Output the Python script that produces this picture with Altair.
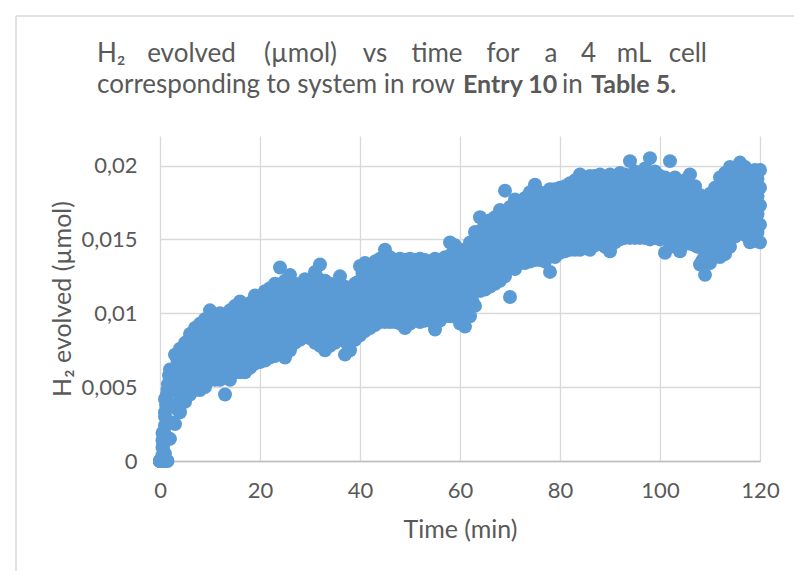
import altair as alt
import pandas as pd

# ---- data (time in min, H2 evolved in µmol) ----
# whole-minute readings: lower edge, three inner levels, upper edge of the scatter
T = list(range(121))

Y_LOW = [
    0, .0005, .0015, .0025, .0033, .004, .0045, .0048, .0048, .005,
    .0055, .0055, .0055, .0045, .0055, .006, .006, .006, .0063, .0066,
    .0067, .0068, .007, .0071, .0073, .007, .0075, .008, .0082, .0085,
    .0083, .008, .0078, .0075, .0078, .008, .0082, .0072, .0075, .0082,
    .0085, .0088, .009, .0092, .0094, .0094, .0094, .0094, .0093, .009,
    .0093, .0095, .0094, .0095, .0095, .0089, .0095, .0098, .0098, .0098,
    .0093, .0091, .0098, .0105, .0115, .0116, .0118, .012, .0122, .0125,
    .0111, .013, .0134, .0134, .0135, .0136, .0136, .0135, .0128, .0138,
    .0141, .0142, .0143, .0143, .0143, .0144, .0143, .0146, .0148, .0145,
    .0142, .0148, .015, .0151, .0151, .0151, .0151, .0151, .015, .0151,
    .015, .0141, .0147, .0145, .0142, .0148, .0147, .0146, .0133, .0126,
    .0134, .0138, .0138, .014, .0145, .0152, .0155, .0153, .0148, .0149,
    .0148]

Y_Q1 = [
    0, .0014, .0026, .0038, .0044, .005, .0055, .0058, .0059, .0062,
    .0067, .0066, .0066, .0062, .0067, .0071, .0072, .0071, .0074, .0078,
    .0078, .008, .0082, .0083, .0085, .0083, .0088, .009, .0091, .0095,
    .0093, .0092, .0092, .0087, .0089, .009, .0093, .0084, .0085, .0092,
    .0097, .01, .01, .0103, .0105, .0106, .0105, .0105, .0104, .0102,
    .0104, .0105, .0105, .0105, .0105, .0101, .0105, .0108, .0111, .011,
    .0106, .0104, .0111, .0118, .0128, .0127, .0129, .0131, .0134, .0137,
    .0136, .0142, .0144, .0145, .0147, .0149, .0148, .0147, .0145, .015,
    .0152, .0153, .0154, .0155, .0156, .0156, .0156, .0158, .0159, .0157,
    .0155, .0159, .0161, .0162, .0162, .0162, .0162, .0163, .0162, .0162,
    .0161, .0154, .0158, .0157, .0154, .0158, .0159, .0156, .0145, .0139,
    .0146, .015, .0152, .0154, .0159, .0163, .0167, .0165, .016, .0161,
    .016]

Y_MID = [
    0, .0024, .0038, .0049, .0055, .006, .0066, .0069, .0071, .0073,
    .0079, .0077, .0078, .0075, .0079, .0083, .0084, .0083, .0085, .0089,
    .0089, .0092, .0094, .0096, .0097, .0096, .0101, .01, .01, .0104,
    .0103, .0104, .0106, .0099, .0099, .0099, .0104, .0095, .0096, .0101,
    .0109, .0111, .011, .0114, .0116, .0119, .0116, .0115, .0115, .0113,
    .0115, .0116, .0116, .0116, .0115, .0113, .0115, .0118, .0123, .0122,
    .0118, .0117, .0123, .013, .014, .0138, .014, .0143, .0146, .0149,
    .0148, .0154, .0155, .0156, .0159, .0162, .0159, .0158, .0158, .0161,
    .0163, .0164, .0166, .0167, .0169, .0168, .0168, .017, .0171, .0169,
    .0168, .0171, .0173, .0173, .0173, .0174, .0173, .0175, .0174, .0174,
    .0172, .0167, .017, .0169, .0165, .0169, .0171, .0166, .0157, .0152,
    .0158, .0162, .0165, .0168, .0172, .0175, .0179, .0176, .0172, .0173,
    .0173]

Y_Q3 = [
    0, .0033, .005, .006, .0066, .007, .0076, .0079, .0082, .0085,
    .009, .0087, .0089, .0087, .009, .0094, .0096, .0094, .0096, .0101,
    .0099, .0103, .0105, .0108, .0109, .0109, .0113, .011, .0109, .0114,
    .0112, .0116, .0119, .011, .011, .0109, .0114, .0107, .0106, .0111,
    .012, .0123, .012, .0124, .0126, .0131, .0127, .0126, .0126, .0125,
    .0126, .0126, .0126, .0126, .0125, .0125, .0124, .0128, .0136, .0134,
    .0131, .013, .0136, .0143, .0153, .0149, .0152, .0154, .0158, .0161,
    .016, .0165, .0165, .0167, .017, .0174, .0171, .017, .0171, .0173,
    .0174, .0175, .0177, .0178, .0181, .018, .0181, .0181, .0182, .018,
    .0181, .0182, .0184, .0183, .0184, .0185, .0184, .0186, .0185, .0185,
    .0182, .0179, .0181, .018, .0177, .0179, .0182, .0176, .0168, .0165,
    .0169, .0173, .0179, .0181, .0186, .0186, .019, .0188, .0184, .0185,
    .0185]

Y_HIGH = [
    0, .0042, .0062, .0072, .0076, .008, .0086, .009, .0093, .0096,
    .0102, .0098, .01, .0099, .0102, .0105, .0108, .0105, .0107, .0112,
    .011, .0115, .0117, .012, .0131, .0122, .0126, .012, .0118, .0123,
    .0122, .0128, .0133, .0122, .012, .0118, .0125, .0118, .0116, .012,
    .0132, .0134, .013, .0135, .0137, .0143, .0138, .0136, .0137, .0136,
    .0137, .0136, .0137, .0136, .0135, .0137, .0134, .0138, .0148, .0146,
    .0143, .0143, .0148, .0155, .0165, .016, .0163, .0165, .017, .0183,
    .0172, .0177, .0175, .0178, .0182, .0187, .0182, .0181, .0184, .0184,
    .0185, .0186, .0188, .019, .0194, .0192, .0193, .0193, .0194, .0192,
    .0194, .0193, .0195, .0194, .0203, .0196, .0195, .0198, .0205, .0196,
    .0193, .0192, .0203, .0192, .0188, .019, .0194, .0186, .018, .0178,
    .0181, .0185, .0192, .0195, .0199, .0197, .0202, .0199, .0196, .0197,
    .0197]

# half-minute readings inside the band
T_HALF = [i + 0.5 for i in range(120)]

Y_H1 = [
    .0004, .0015, .0026, .0035, .0042, .0047, .0052, .0053, .0055, .0059,
    .0061, .006, .0058, .0058, .0063, .0066, .0066, .0067, .007, .0072,
    .0073, .0075, .0077, .0078, .0078, .0079, .0083, .0086, .0088, .0089,
    .0087, .0086, .0083, .0082, .0084, .0086, .0083, .0079, .0084, .0089,
    .0093, .0095, .0096, .0099, .01, .01, .01, .0099, .0097, .0097,
    .0099, .01, .01, .01, .0098, .0098, .0102, .0104, .0104, .0102,
    .0099, .0101, .0108, .0117, .0122, .0122, .0125, .0127, .013, .0131,
    .0133, .0137, .0139, .014, .0142, .0142, .0142, .0139, .0141, .0145,
    .0147, .0148, .0149, .0149, .015, .015, .0151, .0153, .0152, .015,
    .0151, .0155, .0156, .0157, .0157, .0157, .0157, .0156, .0156, .0156,
    .0152, .015, .0152, .015, .015, .0153, .0152, .0145, .0136, .0136,
    .0142, .0145, .0146, .015, .0155, .0159, .016, .0156, .0155, .0155]

Y_H2 = [
    .0009, .0026, .0038, .0047, .0053, .0058, .0062, .0064, .0066, .007,
    .0072, .0072, .007, .0071, .0075, .0078, .0078, .0078, .0082, .0084,
    .0085, .0087, .0089, .009, .009, .0092, .0095, .0095, .0098, .0099,
    .0098, .0099, .0096, .0094, .0094, .0097, .0094, .009, .0094, .01,
    .0104, .0105, .0107, .011, .0112, .0112, .011, .011, .0109, .0109,
    .011, .011, .011, .011, .0109, .0108, .0112, .0115, .0116, .0114,
    .0111, .0114, .012, .0129, .0133, .0134, .0136, .0139, .0142, .0143,
    .0145, .0149, .015, .0152, .0154, .0155, .0153, .0152, .0154, .0157,
    .0158, .0159, .016, .0162, .0162, .0162, .0163, .0165, .0164, .0162,
    .0163, .0166, .0167, .0168, .0168, .0168, .0168, .0168, .0168, .0167,
    .0164, .0162, .0164, .0161, .0161, .0164, .0163, .0156, .0148, .0149,
    .0154, .0157, .016, .0163, .0167, .0171, .0172, .0168, .0167, .0167]

Y_H3 = [
    .0014, .0036, .0049, .0058, .0063, .0068, .0073, .0075, .0078, .0082,
    .0083, .0083, .0082, .0083, .0087, .0089, .0089, .009, .0093, .0095,
    .0096, .0099, .0101, .0103, .0103, .0105, .0106, .0105, .0107, .0108,
    .0109, .0111, .0108, .0105, .0104, .0107, .0105, .0101, .0104, .011,
    .0116, .0116, .0117, .012, .0123, .0123, .0121, .0121, .012, .012,
    .0121, .0121, .0121, .012, .0119, .0119, .0121, .0126, .0129, .0126,
    .0124, .0127, .0133, .0142, .0145, .0145, .0147, .015, .0154, .0155,
    .0157, .016, .0161, .0163, .0166, .0167, .0165, .0164, .0166, .0168,
    .0169, .0171, .0172, .0174, .0174, .0174, .0175, .0176, .0176, .0174,
    .0175, .0178, .0178, .0178, .0179, .0179, .018, .018, .0179, .0178,
    .0175, .0174, .0175, .0173, .0172, .0175, .0174, .0167, .0161, .0161,
    .0166, .017, .0173, .0177, .018, .0182, .0183, .018, .0179, .0179]

Y_H4 = [
    .0019, .0048, .006, .0068, .0073, .0078, .0083, .0086, .0089, .0093,
    .0094, .0094, .0094, .0095, .0098, .0101, .0101, .0101, .0104, .0106,
    .0107, .011, .0113, .0115, .0115, .0118, .0117, .0114, .0116, .0118,
    .012, .0124, .0121, .0116, .0114, .0117, .0116, .0112, .0113, .0121,
    .0127, .0127, .0127, .0131, .0134, .0135, .0132, .0131, .0131, .0131,
    .0131, .0131, .0131, .013, .013, .013, .0131, .0137, .0141, .0139,
    .0137, .0139, .0146, .0154, .0157, .0156, .0159, .0162, .0168, .0167,
    .0168, .0171, .0171, .0174, .0178, .0179, .0176, .0177, .0178, .0179,
    .018, .0182, .0183, .0186, .0187, .0186, .0187, .0188, .0187, .0187,
    .0187, .0189, .0189, .0189, .019, .019, .0191, .0191, .019, .0189,
    .0186, .0186, .0186, .0184, .0183, .0186, .0185, .0178, .0173, .0173,
    .0177, .0182, .0187, .019, .0192, .0194, .0195, .0192, .019, .0191]

# first seconds: points sitting at zero and the steep initial rise
EARLY_T = [0.3, 0.6, 0.9, 1.2, 1.5, 0.6, 0.8, 1.0, 1.2, 1.4, 1.6, 1.8]
EARLY_Y = [0, 0, 0, 0, 0, .001, .002, .003, .0038, .0045, .0052, .0058]

rows = []
for series in (Y_LOW, Y_Q1, Y_MID, Y_Q3, Y_HIGH):
    rows += list(zip(T, series))
for series in (Y_H1, Y_H2, Y_H3, Y_H4):
    rows += list(zip(T_HALF, series))
rows += list(zip(EARLY_T, EARLY_Y))
df = pd.DataFrame(rows, columns=["time", "h2"])

# ---- styling ----
FONT = "Lato"
TEXT = "#595959"
GRID = "#d9d9d9"
BLUE = "#5B9BD5"
L0, T0 = 160, 136          # plot origin in page pixels
W, H = 600, 325

one = pd.DataFrame({"k": [0]})

points = alt.Chart(df).mark_circle(size=195, color=BLUE, opacity=1).encode(
    x=alt.X("time:Q",
            scale=alt.Scale(domain=[0, 120], nice=False, zero=False),
            axis=alt.Axis(values=[0, 20, 40, 60, 80, 100, 120], title="Time (min)",
                          grid=True, gridColor=GRID, gridWidth=1.3,
                          domainColor="#bfbfbf", domainWidth=1.6, ticks=False,
                          labelFont=FONT, labelFontSize=22, labelColor=TEXT,
                          labelPadding=19, labelFlush=False,
                          titleFont=FONT, titleFontSize=25, titleFontWeight="normal",
                          titleColor=TEXT, titlePadding=16)),
    y=alt.Y("h2:Q",
            scale=alt.Scale(domain=[0, 0.022], nice=False),
            axis=alt.Axis(values=[0, 0.005, 0.01, 0.015, 0.02],
                          labelExpr="replace(toString(datum.value), '.', ',')",
                          title="H₂ evolved (µmol)",
                          grid=True, gridColor=GRID, gridWidth=1.3,
                          domain=False, ticks=False,
                          labelFont=FONT, labelFontSize=22, labelColor=TEXT,
                          labelPadding=23,
                          titleFont=FONT, titleFontSize=25, titleFontWeight="normal",
                          titleColor=TEXT, titleX=-98, titleY=162.5, titleAngle=270,
                          titleAlign="center", titleBaseline="middle")),
)

frame_top = alt.Chart(one).mark_rule(color=GRID, strokeWidth=1.5).encode(
    x=alt.value(16 - L0), x2=alt.value(800 - L0), y=alt.value(16 - T0))
frame_left = alt.Chart(one).mark_rule(color=GRID, strokeWidth=1.5).encode(
    x=alt.value(16 - L0), y=alt.value(16 - T0), y2=alt.value(580 - T0))


def txt(s, x, y, bold=False, align="left", size=26):
    return alt.Chart(one).mark_text(
        text=s, font=FONT, fontSize=size, fontWeight="bold" if bold else "normal",
        color=TEXT, align=align, baseline="alphabetic").encode(
        x=alt.value(x - L0), y=alt.value(y - T0))


line1 = [("H₂", 97, "left"), ("evolved", 191.5, "center"), ("(µmol)", 300.5, "center"),
         ("vs", 375, "center"), ("time", 437, "center"), ("for", 503, "center"),
         ("a", 551, "center"), ("4", 588.5, "center"), ("mL", 634, "center"),
         ("cell", 707, "right")]
texts = [txt(w, x, 62, align=a) for w, x, a in line1]
texts += [txt("corresponding to system in row", 97, 93),
          txt("Entry 10", 463, 93, bold=True, size=25),
          txt("in", 562, 93),
          txt("Table 5.", 591, 93, bold=True, size=25)]

chart = alt.layer(frame_top, frame_left, points, *texts).properties(
    width=W, height=H,
    autosize=alt.AutoSizeParams(type="none"),
    padding={"left": L0, "top": T0, "right": 794 - L0 - W, "bottom": 571 - T0 - H},
    background="white",
).configure_view(stroke=None)

chart.save("out.html", embed_options={"renderer": "svg", "actions": False})
